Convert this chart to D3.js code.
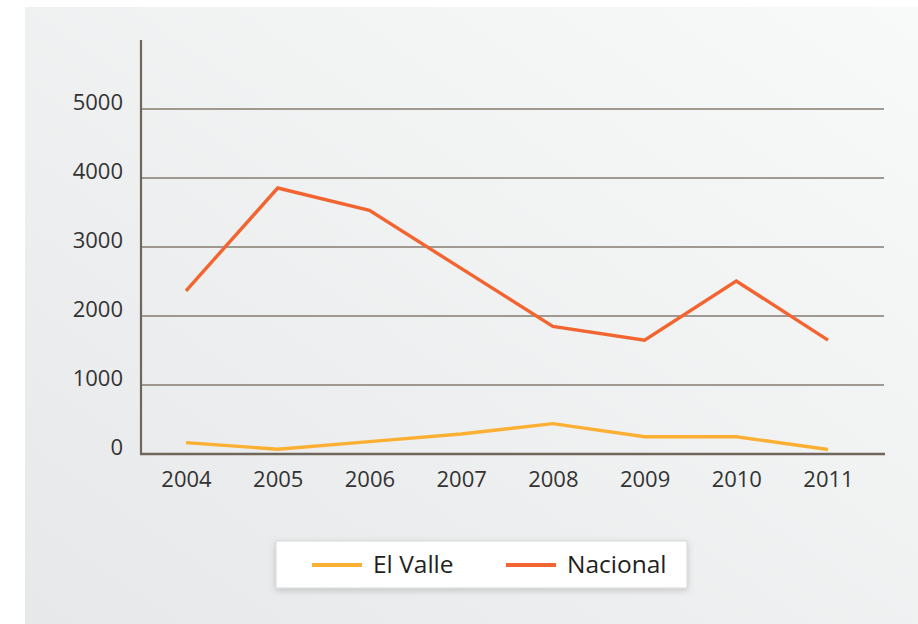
<!DOCTYPE html>
<html>
<head>
<meta charset="utf-8">
<script src="https://cdn.jsdelivr.net/npm/d3@7"></script>
<style>
  html, body { margin: 0; padding: 0; background: #fff; }
  svg { display: block; }
  svg text { font-family: "Open Sans", "Noto Sans", sans-serif; }
</style>
</head>
<body>
<svg id="chart" width="918" height="624"></svg>
<script>
// data
var years = ['2004', '2005', '2006', '2007', '2008', '2009', '2010', '2011'];
var elValle = [165, 70, 180, 290, 440, 250, 250, 65];
var nacional = [2365, 3855, 3530, 2690, 1850, 1648, 2507, 1650];
var yTicks = [0, 1000, 2000, 3000, 4000, 5000];
var seriesNames = ['El Valle', 'Nacional'];
var seriesColors = ['#fbb034', '#f26531'];

var svg = d3.select('#chart');

//************************ background panel *************************/
var defs = svg.append('defs');
var grad = defs.append('linearGradient')
  .attr('id', 'bg')
  .attr('x1', '100%').attr('y1', '0%')
  .attr('x2', '0%').attr('y2', '100%');
grad.append('stop').attr('offset', '0%').attr('stop-color', '#f8f9f9');
grad.append('stop').attr('offset', '100%').attr('stop-color', '#e7e8e9');

var shadow = defs.append('filter').attr('id', 'shadow')
  .attr('x', '-10%').attr('y', '-30%').attr('width', '120%').attr('height', '170%');
shadow.append('feDropShadow')
  .attr('dx', 0).attr('dy', 2).attr('stdDeviation', 3)
  .attr('flood-color', '#000').attr('flood-opacity', 0.18);

svg.append('rect')
  .attr('x', 25).attr('y', 7)
  .attr('width', 893).attr('height', 617)
  .attr('fill', 'url(#bg)');

//************************ scales *************************/
var x = d3.scalePoint().domain(years).range([186, 828]);
var y = d3.scaleLinear().domain([0, 5000]).range([454, 109]);

var left = 141, right = 885;

// grid lines
svg.append('g')
  .selectAll('line')
  .data(yTicks.filter(d => d > 0))
  .enter().append('line')
  .attr('x1', left).attr('x2', right - 1)
  .attr('y1', d => y(d)).attr('y2', d => y(d))
  .attr('stroke', '#857b70')
  .attr('stroke-width', 1.5);

// y axis labels
var yAxis = svg.append('g')
  .attr('transform', 'translate(' + left + ',0)')
  .call(d3.axisLeft(y).tickValues(yTicks).tickSize(0).tickPadding(18).tickFormat(d3.format('d')));
yAxis.select('.domain').remove();
yAxis.selectAll('text')
  .attr('dy', '0.03em')
  .attr('fill', '#333')
  .style('font-family', '"Open Sans", sans-serif')
  .style('font-size', '22px');

// x axis labels
var xAxis = svg.append('g')
  .attr('transform', 'translate(0,' + y(0) + ')')
  .call(d3.axisBottom(x).tickSize(0).tickPadding(17));
xAxis.select('.domain').remove();
xAxis.selectAll('text')
  .attr('fill', '#333')
  .style('font-family', '"Open Sans", sans-serif')
  .style('font-size', '22px');

// axis lines
svg.append('line')
  .attr('x1', left).attr('x2', left)
  .attr('y1', 40).attr('y2', y(0) + 1)
  .attr('stroke', '#6f665c').attr('stroke-width', 2.2);
svg.append('line')
  .attr('x1', left - 1).attr('x2', right)
  .attr('y1', y(0)).attr('y2', y(0))
  .attr('stroke', '#6f665c').attr('stroke-width', 2.5);

//************************ series *************************/
var line = d3.line()
  .x((d, i) => x(years[i]))
  .y(d => y(d));

[elValle, nacional].forEach(function(vals, i) {
  svg.append('path')
    .datum(vals)
    .attr('d', line)
    .attr('fill', 'none')
    .attr('stroke', seriesColors[i])
    .attr('stroke-width', 3.4);
});

//************************ legend *************************/
var legend = svg.append('g');
legend.append('rect')
  .attr('x', 276).attr('y', 541)
  .attr('width', 411).attr('height', 47)
  .attr('fill', '#fff')
  .attr('stroke', '#d6d7d8')
  .attr('stroke-width', 1)
  .attr('filter', 'url(#shadow)');

var legendX = [312, 506];
seriesNames.forEach(function(name, i) {
  legend.append('line')
    .attr('x1', legendX[i]).attr('x2', legendX[i] + 50)
    .attr('y1', 565).attr('y2', 565)
    .attr('stroke', seriesColors[i])
    .attr('stroke-width', 4);
  legend.append('text')
    .attr('x', legendX[i] + 61)
    .attr('y', 573)
    .attr('fill', '#231f20')
    .style('font-size', '24.5px')
    .text(name);
});
</script>
</body>
</html>
